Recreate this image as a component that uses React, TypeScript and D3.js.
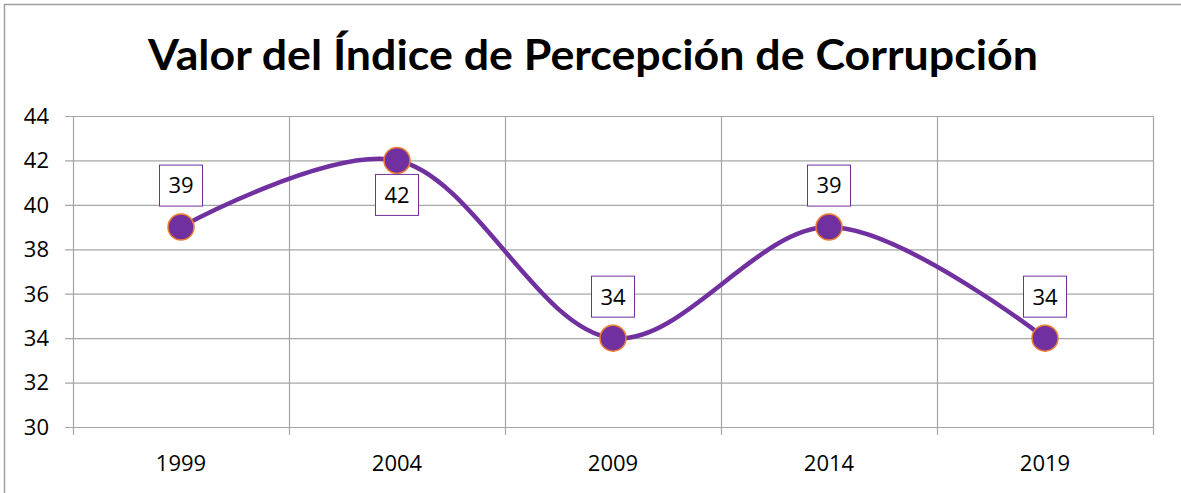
import React from "react";
import * as d3 from "d3";

const years = ["1999", "2004", "2009", "2014", "2019"];
const values = [39, 42, 34, 39, 34];
const yTicks = [30, 32, 34, 36, 38, 40, 42, 44];
const labelAbove = [true, false, true, true, true];
const title = "Valor del Índice de Percepción de Corrupción";

const W = 1181;
const H = 493;
const plot = { left: 73, right: 1153, top: 116, bottom: 427 };
const PURPLE = "#7030A0";
const GRID = "#A6A6A6";
const FONT = "'Open Sans', 'Noto Sans', sans-serif";

export default function App() {
  const x = d3.scaleBand<string>().domain(years).range([plot.left, plot.right]).padding(0);
  const y = d3.scaleLinear().domain([30, 44]).range([plot.bottom, plot.top]);
  const cx = (yr: string) => (x(yr) as number) + x.bandwidth() / 2;
  const pts: [number, number][] = years.map((yr, i) => [cx(yr), y(values[i])]);
  const line = d3.line().curve(d3.curveCatmullRom.alpha(0.5));
  const boundaries = [...years.map((yr) => x(yr) as number), plot.right];

  return (
    <div style={{ position: "fixed", left: 0, top: 0 }}>
      <svg width={W} height={H} style={{ display: "block", background: "#fff" }}>
        <rect x={4.5} y={4.5} width={1250} height={600} fill="#fff" stroke="#A0A0A0" strokeWidth={1.5} />
        <text
          x={593}
          y={70}
          textAnchor="middle"
          fontFamily="Lato, 'Open Sans', sans-serif"
          fontWeight="bold"
          fontSize={42}
          textLength={890}
          lengthAdjust="spacingAndGlyphs"
          fill="#000"
        >
          {title}
        </text>
        {yTicks.map((t) => (
          <g key={t}>
            <line x1={65} x2={plot.right} y1={y(t) + 0.5} y2={y(t) + 0.5} stroke={GRID} strokeWidth={1.2} />
            <text x={49} y={y(t)} dy="0.36em" textAnchor="end" fontFamily={FONT} fontSize={22} fill="#000">
              {t}
            </text>
          </g>
        ))}
        {boundaries.map((b, i) => (
          <line key={i} x1={b + 0.5} x2={b + 0.5} y1={plot.top} y2={plot.bottom + 8} stroke={GRID} strokeWidth={1.2} />
        ))}
        {years.map((yr) => (
          <text key={yr} x={cx(yr)} y={471} textAnchor="middle" fontFamily={FONT} fontSize={22} fill="#000">
            {yr}
          </text>
        ))}
        <path d={line(pts) || ""} fill="none" stroke={PURPLE} strokeWidth={4.5} strokeLinecap="round" />
        {pts.map(([px, py], i) => (
          <circle key={i} cx={px} cy={py} r={13} fill={PURPLE} stroke="#ED7D31" strokeWidth={1.5} />
        ))}
        {pts.map(([px, py], i) => {
          const cy = labelAbove[i] ? py - 41.5 : py + 34.5;
          return (
            <g key={"l" + i}>
              <rect x={px - 21.5} y={cy - 20.5} width={43} height={41} fill="#fff" stroke={PURPLE} strokeWidth={1} />
              <text x={px} y={cy} dy="0.36em" textAnchor="middle" fontFamily={FONT} fontSize={22} fill="#000">
                {values[i]}
              </text>
            </g>
          );
        })}
      </svg>
    </div>
  );
}
